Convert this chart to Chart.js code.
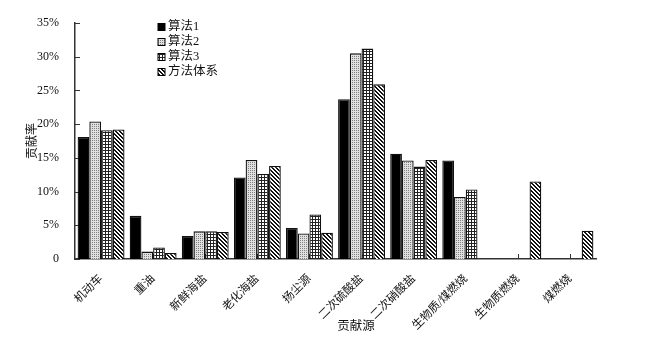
<!DOCTYPE html>
<html>
<head>
<meta charset="utf-8">
<script src="https://cdn.jsdelivr.net/npm/chart.js@4"></script>
<style>
  body { margin: 0; background: #fff; }
</style>
</head>
<body>
<canvas id="chart" width="663" height="345"></canvas>
<script>
const categories = ["机动车", "重油", "新鲜海盐", "老化海盐", "扬尘源", "二次硫酸盐", "二次硝酸盐", "生物质/煤燃烧", "生物质燃烧", "煤燃烧"];
const seriesNames = ["算法1", "算法2", "算法3", "方法体系"];
const algo1 = [18.1, 6.4, 3.4, 12.1, 4.6, 23.7, 15.6, 14.6, null, null];
const algo2 = [20.4, 1.1, 4.1, 14.7, 3.8, 30.5, 14.6, 9.2, null, null];
const algo3 = [19.1, 1.7, 4.1, 12.6, 6.6, 31.2, 13.7, 10.3, null, null];
const system = [19.2, 0.9, 4.0, 13.8, 3.9, 25.9, 14.7, null, 11.5, 4.2];
const yTicks = [0, 5, 10, 15, 20, 25, 30, 35];
const xTitle = "贡献源";

const FONT = "'Liberation Serif', 'Noto Sans CJK SC', serif";

function makePattern(w, h, draw) {
  const c = document.createElement("canvas");
  c.width = w; c.height = h;
  const g = c.getContext("2d");
  draw(g);
  return g.createPattern(c, "repeat");
}

// stipple, grid, diagonal hatch
const dots = makePattern(2, 2, g => {
  g.fillStyle = "#e0e0e0"; g.fillRect(0, 0, 2, 2);
  g.fillStyle = "#808080"; g.fillRect(0, 0, 1, 1);
});
const grid = makePattern(3, 3, g => {
  g.fillStyle = "#fff"; g.fillRect(0, 0, 3, 3);
  g.fillStyle = "#222"; g.fillRect(0, 0, 3, 1); g.fillRect(0, 0, 1, 3);
});
const hatch = makePattern(4, 4, g => {
  g.fillStyle = "#fff"; g.fillRect(0, 0, 4, 4);
  g.fillStyle = "#111";
  for (let y = 0; y < 4; y++)
    for (let x = 0; x < 4; x++)
      if (((x - y) % 4 + 4) % 4 < 2) g.fillRect(x, y, 1, 1);
});

const fills = ["#000", dots, grid, hatch];
const values = [algo1, algo2, algo3, system];

// inner tick marks, drawn under the bars
const innerTicks = {
  id: "innerTicks",
  beforeDatasetsDraw(chart) {
    const { ctx, chartArea, scales: { x, y } } = chart;
    ctx.save();
    ctx.strokeStyle = "#333";
    ctx.lineWidth = 1;
    ctx.beginPath();
    yTicks.forEach(v => {
      const py = Math.round(y.getPixelForValue(v)) + 0.5;
      ctx.moveTo(chartArea.left, py); ctx.lineTo(chartArea.left + 5, py);
    });
    categories.forEach((c, i) => {
      const px = Math.round(x.getPixelForValue(i)) + 0.5;
      ctx.moveTo(px, chartArea.bottom); ctx.lineTo(px, chartArea.bottom - 5);
    });
    ctx.stroke();
    ctx.restore();
  }
};

const boxLegend = {
  id: "boxLegend",
  afterDraw(chart) {
    const ctx = chart.ctx;
    ctx.save();
    ctx.font = "12.5px " + FONT;
    ctx.textBaseline = "middle";
    chart.data.datasets.forEach((ds, i) => {
      const cy = 27 + i * 15;
      ctx.fillStyle = ds.backgroundColor;
      ctx.fillRect(158, cy - 3.5, 7, 7);
      ctx.strokeStyle = "#000";
      ctx.lineWidth = 1;
      ctx.strokeRect(158, cy - 3.5, 7, 7);
      ctx.fillStyle = "#111";
      ctx.fillText(ds.label, 168, cy);
    });
    // x axis title, sits right of centre in the original
    ctx.font = "12.5px " + FONT;
    ctx.textAlign = "center";
    ctx.fillText(xTitle, 356, 327);
    ctx.restore();
  }
};

new Chart(document.getElementById("chart"), {
  type: "bar",
  data: {
    labels: categories,
    datasets: seriesNames.map((name, i) => ({
      label: name,
      data: values[i],
      backgroundColor: fills[i],
      borderColor: "#111",
      borderWidth: 1.3,
      categoryPercentage: 0.9,
      barPercentage: 1.0
    }))
  },
  options: {
    responsive: false,
    animation: false,
    devicePixelRatio: 1,
    layout: { padding: { left: 22, right: 67, top: 23, bottom: 0 } },
    plugins: {
      legend: { display: false },
      tooltip: { enabled: false }
    },
    scales: {
      x: {
        grid: { display: false },
        border: { display: true, color: "#333", width: 1.5 },
        ticks: {
          color: "#111",
          font: { family: FONT, size: 11.5 },
          maxRotation: 45,
          minRotation: 45,
          padding: 5
        },
        afterFit(scale) { scale.height = 86; }
      },
      y: {
        min: 0,
        max: 35,
        grid: { display: false },
        border: { display: true, color: "#333", width: 1.5 },
        ticks: {
          stepSize: 5,
          color: "#111",
          padding: 8,
          font: { family: FONT, size: 12 },
          callback: v => v === 0 ? "0" : v + "%"
        },
        title: {
          display: true,
          text: "贡献率",
          color: "#111",
          font: { family: FONT, size: 12 },
          padding: { top: 4, bottom: 4 }
        },
        afterFit(scale) { scale.width = 53; }
      }
    }
  },
  plugins: [innerTicks, boxLegend]
});
</script>
</body>
</html>
